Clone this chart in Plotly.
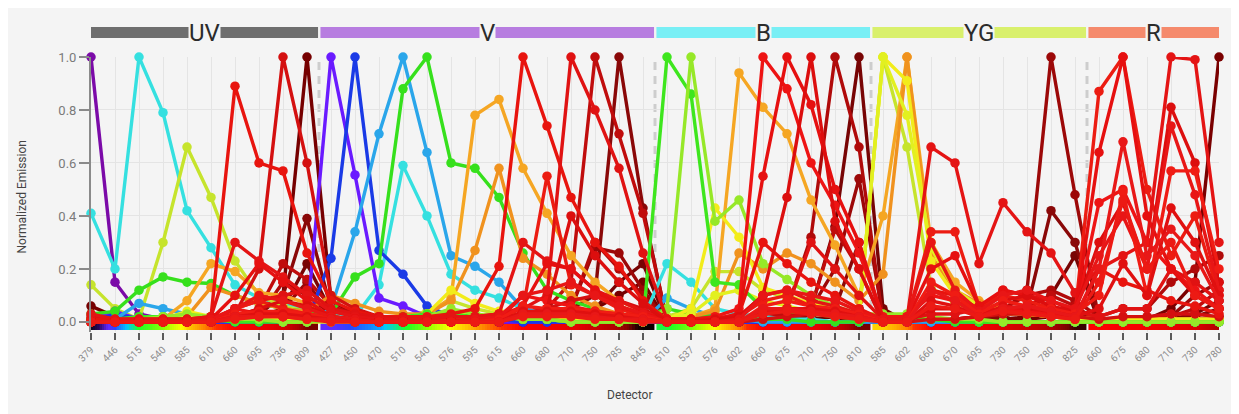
import numpy as np
import plotly.graph_objects as go

# ---------------- data ----------------
groups = ["UV", "V", "B", "YG", "R"]
uv_det = [379, 446, 515, 540, 585, 610, 660, 695, 736, 809]
v_det = [427, 450, 470, 510, 540, 576, 595, 615, 660, 680, 710, 750, 785, 845]
b_det = [510, 537, 576, 602, 660, 675, 710, 750, 810]
yg_det = [585, 602, 660, 670, 695, 730, 750, 780, 825]
r_det = [660, 675, 680, 710, 730, 780]
group_dets = [uv_det, v_det, b_det, yg_det, r_det]
group_bar_colors = ["#6e6e6e", "#b77de0", "#78eff5", "#d9f06c", "#f58a6c"]
detectors = uv_det + v_det + b_det + yg_det + r_det

#            UV (10)                                              | V (14)                                                                    | B (9)                                           | YG (9)                                          | R (6)
buv395 = [1.00, .15, .03, .01, .01, 0, 0, 0, 0, .01] + [.02, .01, 0, 0, 0, 0, 0, 0, 0, 0, 0, 0, 0, 0] + [0, 0, 0, 0, 0, 0, 0, 0, 0] + [0, 0, 0, 0, 0, 0, 0, 0, 0] + [0, 0, 0, 0, 0, 0]
buv496 = [.41, .20, 1.00, .79, .42, .28, .14, .09, .07, .05] + [.03, .02, .14, .59, .40, .18, .12, .09, .05, .03, .02, .02, .01, .01] + [.22, .15, .05, .03, .02, .01, .01, 0, 0] + [.01, .01, 0, 0, 0, 0, 0, 0, 0] + [0, 0, 0, 0, 0, 0]
buv563 = [.14, .05, .01, .30, .66, .47, .23, .10, .06, .04] + [.01, .01, .01, .02, .04, .08, .05, .03, .02, .02, .01, .01, .01, 0] + [.02, .05, .19, .19, .12, .09, .07, .05, .02] + [1.00, .66, .13, .07, .04, .03, .03, .02, .01] + [.01, .01, .01, .01, .01, .01]
bv421 = [.01, .04, .01, 0, 0, 0, 0, 0, 0, .01] + [1.00, .555, .09, .06, .02, .01, .01, 0, 0, 0, 0, 0, 0, 0] + [0, 0, 0, 0, 0, 0, 0, 0, 0] + [0, 0, 0, 0, 0, 0, 0, 0, 0] + [0, 0, 0, 0, 0, 0]
bv450 = [0, .03, .01, 0, 0, 0, 0, 0, 0, 0] + [.24, 1.00, .27, .18, .06, .02, .01, .01, 0, 0, 0, 0, 0, 0] + [0, 0, 0, 0, 0, 0, 0, 0, 0] + [0, 0, 0, 0, 0, 0, 0, 0, 0] + [0, 0, 0, 0, 0, 0]
bv480 = [.01, .01, .07, .05, .03, .02, .01, .01, 0, 0] + [.05, .34, .71, 1.00, .64, .25, .21, .15, .05, .03, .02, .01, .01, 0] + [.09, .05, .02, .01, 0, 0, 0, 0, 0] + [0, 0, 0, 0, 0, 0, 0, 0, 0] + [0, 0, 0, 0, 0, 0]
bv510 = [.03, .04, .12, .17, .15, .145, .10, .07, .05, .04] + [.03, .17, .22, .88, 1.00, .60, .58, .47, .26, .12, .08, .05, .03, .02] + [.05, .03, .02, .01, .01, .01, 0, 0, 0] + [.02, .02, .01, 0, 0, 0, 0, 0, 0] + [0, 0, 0, 0, 0, 0]
bv605 = [0, 0, 0, .01, .08, .22, .19, .11, .10, .07] + [.02, .01, .01, .02, .03, .09, .78, .84, .58, .41, .25, .15, .08, .04] + [.01, .02, .05, .94, .81, .71, .46, .29, .10] + [.40, 1.00, .30, .15, .08, .05, .04, .03, .02] + [.01, .01, .01, .01, .01, .01]
bv615 = [0, 0, 0, 0, .02, .13, .10, .07, .05, .04] + [.10, .07, .04, .03, .03, .08, .27, .58, .24, .18, .10, .06, .03, .02] + [.01, .02, .04, .26, .20, .26, .22, .15, .08] + [.18, 1.00, .25, .12, .07, .05, .03, .02, .01] + [.01, .01, .01, .01, .01, .01]
pe = [0, .01, .01, .01, .04, .02, .01, .01, .01, .01] + [.01, .01, .01, .02, .03, .12, .07, .04, .02, .01, .01, .01, 0, 0] + [.01, .05, .43, .32, .13, .10, .07, .04, .02] + [1.00, .91, .23, .10, .05, .04, .03, .02, .01] + [.01, .01, .01, .01, .01, .01]
pe2 = [.01, 0, 0, .01, .02, .02, .01, .01, 0, 0] + [0, 0, 0, .01, .02, .04, .03, .02, .01, .01, 0, 0, 0, 0] + [.01, .03, .10, .12, .08, .06, .04, .03, .02] + [1.00, .78, .28, .12, .06, .04, .03, .02, .01] + [0, 0, 0, 0, 0, 0]
fitc = [.01, .01, .02, .02, .01, .01, 0, 0, 0, 0] + [.01, .01, .01, .02, .03, .03, .02, .02, .01, .01, 0, 0, 0, 0] + [1.00, .86, .15, .14, .05, .04, .03, .02, .01] + [.02, .02, .01, .01, 0, 0, 0, 0, 0] + [0, 0, 0, 0, 0, 0]
bb530 = [.01, .01, .01, .02, .03, .02, .01, .01, 0, 0] + [.01, .01, .01, .01, .02, .05, .03, .02, .01, .01, 0, 0, 0, 0] + [.05, 1.00, .38, .46, .22, .16, .10, .06, .03] + [.03, .03, .02, .01, .01, 0, 0, 0, 0] + [0, 0, 0, 0, 0, 0]
bv650 = [.01, .01, .01, .01, .01, .02, .89, .60, .57, .26] + [.08, .04, .02, .02, .02, .03, .05, .21, 1.00, .74, .47, .30, .21, .08] + [.01, .01, .01, .03, .30, .22, .15, .10, .05] + [.01, .02, .12, .10, .05, .04, .03, .02, .01] + [.20, .15, .12, .08, .06, .03]
bv711 = [0, 0, 0, 0, 0, .01, .05, .08, .10, .12] + [.05, .03, .02, .01, .01, .01, .02, .03, .05, .10, 1.00, .80, .58, .26] + [.01, .01, .01, .01, .03, .05, .30, .20, .10] + [.01, .01, .03, .03, .05, .12, .10, .08, .04] + [.02, .05, .05, .20, .15, .08]
bv750 = [0, 0, 0, 0, 0, 0, .02, .05, .22, .16] + [.06, .03, .01, .01, .01, .01, .01, .02, .03, .05, .15, 1.00, .71, .41] + [.01, 0, 0, .01, .02, .03, .05, .35, .20] + [0, 0, .01, .01, .02, .05, .06, .10, .06] + [0, 0, .01, .02, .05, .12]
bv786 = [0, 0, 0, 0, 0, 0, .01, .03, .10, .39] + [.05, .02, .01, 0, 0, 0, 0, .01, .02, .03, .05, .10, 1.00, .43] + [0, 0, 0, 0, .01, .01, .02, .05, .30] + [0, 0, 0, 0, .01, .02, .05, .42, .30] + [0, 0, 0, .01, .02, .05]
apc = [0, 0, 0, 0, 0, .01, .05, .08, .05, .03] + [.02, .01, .01, 0, 0, .01, .01, .02, .05, .55, .14, .10, .05, .02] + [.01, .01, .01, .02, .08, .10, .06, .04, .02] + [.01, .01, .34, .34, .06, .10, .08, .05, .03] + [.87, 1.00, .50, .25, .40, .10]
buv737 = [.02, .01, .01, .01, .01, .01, .03, .20, 1.00, .60] + [.10, .05, .02, .01, .01, .01, .01, .02, .03, .05, .08, .10, .08, .05] + [0, 0, 0, 0, .01, .02, .03, .04, .03] + [0, 0, .01, .01, .02, .03, .03, .03, .02] + [.01, .02, .02, .03, .03, .02]
buv805 = [.06, .02, .01, 0, 0, 0, .01, .03, .10, 1.00] + [.08, .03, .01, 0, 0, 0, 0, 0, .01, .02, .03, .05, .10, .15] + [0, 0, 0, 0, 0, 0, .01, .02, .05] + [0, 0, 0, 0, 0, 0, .01, .02, .03] + [0, 0, 0, 0, .01, .02]
apc_r700 = [.03, .01, .01, .01, .01, .02, .30, .23, .17, .10] + [.04, .02, .01, .01, .01, .02, .02, .03, .30, .23, .20, .12, .08, .04] + [.01, .01, .01, .02, .10, .12, .08, .06, .03] + [.01, .01, .66, .60, .22, .45, .34, .26, .11] + [.20, .25, .30, 1.00, .99, .30]
percp = [0, 0, 0, 0, 0, 0, .05, .03, .02, .02] + [.01, .01, 0, 0, 0, 0, .01, .01, .10, .08, .06, .04, .03, .02] + [.01, .01, .02, .05, 1.00, .88, .60, .44, .26] + [.02, .02, .10, .08, .04, .05, .04, .03, .02] + [.45, .50, .30, .20, .12, .05]
percp_cy55 = [0, 0, 0, 0, 0, .01, .10, .22, .15, .08] + [.02, .01, 0, 0, 0, 0, .01, .02, .06, .22, .20, .12, .06, .03] + [.01, .01, .01, .03, .55, 1.00, .82, .50, .30] + [.01, .01, .20, .25, .06, .12, .10, .06, .03] + [.64, 1.00, .40, .20, .10, .05]
bb700 = [0, 0, 0, 0, 0, 0, .02, .05, .08, .06] + [.02, .01, 0, 0, 0, 0, 0, .01, .03, .05, .40, .25, .15, .07] + [0, 0, .01, .02, .10, .47, 1.00, .38, .20] + [0, 0, .05, .05, .03, .08, .10, .06, .04] + [.30, .45, .20, .81, .60, .15]
pe_cy7b = [0, 0, 0, 0, 0, 0, 0, .02, .15, .10] + [.03, .01, 0, 0, 0, 0, 0, 0, .01, .03, .05, .30, .20, .10] + [0, 0, 0, .01, .02, .05, .32, 1.00, .66] + [0, 0, .01, .01, .02, .05, .10, .12, .08] + [.02, .05, .05, .15, .20, .25]
b810 = [0, 0, 0, 0, 0, 0, 0, 0, .05, .22] + [.04, .01, 0, 0, 0, 0, 0, 0, 0, .01, .02, .05, .15, .22] + [0, 0, 0, 0, 0, .01, .05, .36, 1.00] + [.05, 0, 0, 0, .01, .02, .05, .10, .25] + [0, 0, 0, .01, .03, .08]
pe_cy7 = [0, 0, 0, 0, 0, 0, .01, .02, .05, .15] + [.02, 0, 0, 0, 0, 0, 0, 0, .01, .02, .05, .28, .26, .12] + [0, 0, 0, 0, .01, .02, .05, .20, .54] + [.02, .01, .01, .01, .02, .04, .12, 1.00, .48] + [.01, .01, .01, .02, .10, .15]
alexa700 = [0, 0, 0, 0, 0, .01, .05, .10, .08, .05] + [.02, .01, 0, 0, 0, 0, .01, .02, .10, .12, .15, .10, .06, .03] + [0, 0, 0, .01, .10, .12, .10, .08, .04] + [.01, .01, .30, .12, .04, .10, .12, .08, .05] + [.25, .40, .20, .74, .48, .12]
apc_f750 = [0, 0, 0, 0, 0, 0, .03, .04, .04, .03] + [.01, 0, 0, 0, 0, 0, 0, .01, .06, .05, .05, .04, .03, .02] + [0, 0, 0, 0, .06, .08, .06, .05, .03] + [0, 0, .15, .10, .03, .08, .06, .05, .03] + [.10, .49, .10, .57, .57, .20]
spark_nir = [0, 0, 0, 0, 0, 0, .02, .03, .03, .02] + [.01, 0, 0, 0, 0, 0, 0, 0, .04, .04, .04, .03, .02, .01] + [0, 0, 0, 0, .04, .05, .05, .04, .02] + [0, 0, .08, .06, .02, .06, .05, .04, .02] + [.05, .22, .10, .43, .30, .10]
apc_cy7 = [0, 0, 0, 0, 0, 0, 0, 0, 0, .02] + [0, 0, 0, 0, 0, 0, 0, 0, 0, 0, 0, 0, 0, .02] + [0, 0, 0, 0, 0, 0, 0, 0, .02] + [0, 0, 0, 0, 0, .01, .02, .03, .05] + [0, .01, .01, .05, .15, 1.00]
af647 = [0, 0, 0, 0, 0, 0, .02, .02, .02, .01] + [.01, 0, 0, 0, 0, 0, 0, 0, .03, .03, .03, .02, .01, .01] + [0, 0, 0, 0, .05, .05, .04, .03, .02] + [0, 0, .12, .08, .02, .05, .06, .04, .02] + [.20, .68, .25, .35, .25, .08]
r680 = [0, 0, 0, 0, 0, 0, .01, .02, .02, .01] + [0, 0, 0, 0, 0, 0, 0, 0, .02, .02, .02, .01, .01, 0] + [0, 0, 0, 0, .03, .04, .03, .02, .01] + [0, 0, .06, .05, .02, .04, .03, .02, .01] + [.15, .46, .20, .30, .10, .05]

# drawing order: darkest first, bright reds last
series = [
    ("BUV805", buv805, "#760000"),
    ("B810", b810, "#780404"),
    ("APC-Cy7", apc_cy7, "#7a0000"),
    ("BV786", bv786, "#8a0808"),
    ("PE-Cy7", pe_cy7, "#9c0808"),
    ("PE-Cy7 (B)", pe_cy7b, "#b00a0a"),
    ("BV750", bv750, "#c00c0c"),
    ("BUV395", buv395, "#7b0aa8"),
    ("BUV496", buv496, "#35e0e0"),
    ("BUV563", buv563, "#c6e42c"),
    ("BV421", bv421, "#6a1aff"),
    ("BV450", bv450, "#1a3ae6"),
    ("BV480", bv480, "#2aa6ea"),
    ("BV510", bv510, "#36e01c"),
    ("BV605", bv605, "#f5a623"),
    ("BV615", bv615, "#f0921e"),
    ("PE", pe, "#f2ec1a"),
    ("PE-2", pe2, "#e2f020"),
    ("FITC", fitc, "#3ee61e"),
    ("BB530", bb530, "#96e828"),
    ("BUV737", buv737, "#d41010"),
    ("BV650", bv650, "#e8140e"),
    ("BV711", bv711, "#e01212"),
    ("APC", apc, "#ec1c12"),
    ("APC-R700", apc_r700, "#e41414"),
    ("PerCP", percp, "#ee1414"),
    ("PerCP-Cy5.5", percp_cy55, "#e61010"),
    ("BB700", bb700, "#dc0e0e"),
    ("Alexa700", alexa700, "#e81616"),
    ("APC-Fire750", apc_f750, "#f01c14"),
    ("Spark NIR", spark_nir, "#e01010"),
    ("AF647", af647, "#e81818"),
    ("R680", r680, "#ec1a14"),
]
for _n, _v, _c in series:
    assert len(_v) == len(detectors), _n

# wavelength -> colour scale for the spectrum strips
wl_stops = [370, 405, 427, 446, 480, 515, 545, 575, 595, 620, 660, 720, 780, 810, 830, 850]
wl_colors = ["#000000", "#30086e", "#6428ff", "#2846ff", "#00c8ff", "#22ff22", "#a0ff00",
             "#ffff00", "#ffa500", "#ff3000", "#ff0000", "#e40000", "#b00000", "#780000",
             "#200000", "#000000"]

# ---------------- figure ----------------
BG = "#f4f4f4"
fig = go.Figure()

n = len(detectors)
x_idx = list(range(n))

bounds = []
start = 0
for g, dets in zip(groups, group_dets):
    end = start + len(dets) - 1
    left = 0 if start == 0 else start - 0.5 + 0.06
    right = (n - 1) if end == n - 1 else end + 0.5 - 0.04
    bounds.append((start, end, left, right))
    start = end + 1

cs_lo, cs_hi = wl_stops[0], wl_stops[-1]
colorscale = [[(w - cs_lo) / (cs_hi - cs_lo), c] for w, c in zip(wl_stops, wl_colors)]

for (s, e, left, right), dets in zip(bounds, group_dets):
    edges = np.linspace(left, right, 121)
    centers = (edges[:-1] + edges[1:]) / 2
    wl = np.interp(centers, np.arange(s, e + 1), dets)
    fig.add_trace(go.Heatmap(
        x=edges, y=[-0.032, -0.004], z=[wl],
        colorscale=colorscale, zmin=cs_lo, zmax=cs_hi,
        showscale=False, hoverinfo="skip",
    ))

for name, vals, col in series:
    fig.add_trace(go.Scatter(
        x=x_idx, y=vals, mode="lines+markers", name=name,
        line=dict(color=col, width=3.4),
        marker=dict(color=col, size=9.5, line=dict(width=0)),
        cliponaxis=False, showlegend=False, hoverinfo="skip",
    ))

shapes = []
for (s, e, left, right), col in zip(bounds, group_bar_colors):
    shapes.append(dict(type="rect", xref="paper", yref="paper",
                       x0=left / (n - 1), x1=right / (n - 1), y0=1.069, y1=1.109,
                       fillcolor=col, line=dict(width=0), layer="below"))
for (s, e, left, right) in bounds[1:]:
    shapes.append(dict(type="line", xref="x", yref="y",
                       x0=s - 0.5, x1=s - 0.5, y0=0, y1=1.0,
                       line=dict(color="#cdcdcd", width=3, dash="8px,6px"), layer="below"))

annotations = []
for (s, e, left, right), g in zip(bounds, groups):
    annotations.append(dict(x=(left + right) / 2 / (n - 1), y=1.089, xref="paper", yref="paper",
                            text=g, showarrow=False, bgcolor=BG, borderpad=0,
                            font=dict(family="Roboto", size=24, color="#2b2b2b"),
                            xanchor="center", yanchor="middle"))
annotations.append(dict(x=-0.061, y=0.49, xref="paper", yref="paper", text="Normalized Emission",
                        textangle=-90, showarrow=False,
                        font=dict(family="Roboto", size=12, color="#444444"),
                        xanchor="center", yanchor="middle"))
annotations.append(dict(x=0.478, y=-0.229, xref="paper", yref="paper", text="Detector",
                        showarrow=False, font=dict(family="Roboto", size=12, color="#444444"),
                        xanchor="center", yanchor="middle"))

# page body adds an 8px margin, so the figure is sized to fit the 1239x414 window
fig.update_layout(
    width=1231, height=406,
    margin=dict(l=83, r=20, t=49, b=82, pad=0),
    paper_bgcolor=BG, plot_bgcolor=BG,
    shapes=shapes, annotations=annotations,
    hovermode=False,
    font=dict(family="Roboto"),
)
fig.update_xaxes(
    range=[0, n - 1], tickmode="array", tickvals=x_idx,
    ticktext=[str(d) for d in detectors], tickangle=-45,
    tickfont=dict(size=10, color="#8a8a8a"),
    ticks="outside", ticklen=7, tickwidth=2, tickcolor="#5a5a5a",
    showgrid=True, gridcolor="#e4e4e4", gridwidth=1,
    showline=False, zeroline=False,
)
fig.update_yaxes(
    range=[-0.038, 1.0], tickmode="array", tickvals=[0, 0.2, 0.4, 0.6, 0.8, 1.0],
    ticktext=["0.0", "0.2", "0.4", "0.6", "0.8", "1.0"],
    tickfont=dict(size=13, color="#7a7a7a"),
    ticks="outside", ticklen=10, tickwidth=2, tickcolor="#8a8a8a",
    showgrid=True, gridcolor="#e4e4e4", gridwidth=1,
    showline=True, linecolor="#8a8a8a", linewidth=2, zeroline=False,
)

fig.write_html("out.html")
